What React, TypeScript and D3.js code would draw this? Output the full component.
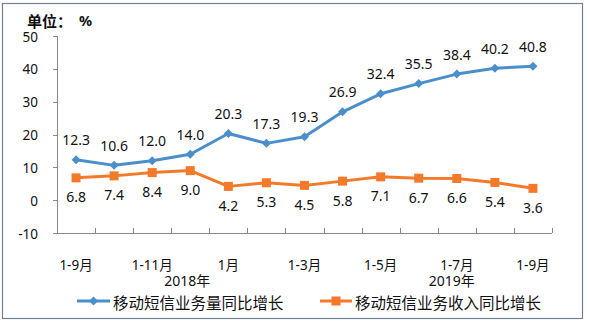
import React from "react";
import * as d3 from "d3";

const categories = ["1-9月", "1-10月", "1-11月", "1-12月", "1月", "1-2月", "1-3月", "1-4月", "1-5月", "1-6月", "1-7月", "1-8月", "1-9月"];
const shownLabels = [0, 2, 4, 6, 8, 10, 12];
const volumeGrowth = [12.3, 10.6, 12.0, 14.0, 20.3, 17.3, 19.3, 26.9, 32.4, 35.5, 38.4, 40.2, 40.8];
const revenueGrowth = [6.8, 7.4, 8.4, 9.0, 4.2, 5.3, 4.5, 5.8, 7.1, 6.7, 6.6, 5.4, 3.6];
const yTicks = [-10, 0, 10, 20, 30, 40, 50];
const seriesNames = ["移动短信业务量同比增长", "移动短信业务收入同比增长"];
const years = ["2018年", "2019年"];

const W = 590, H = 324;
const BLUE = "#4a8fcb";
const ORANGE = "#f47a2a";
const NUM_FONT = "'Noto Sans', 'Noto Sans CJK SC', sans-serif";
const CJK_FONT = "'Noto Sans CJK SC', 'Noto Sans', sans-serif";

export default function App() {
  const idx = categories.map((_, i) => i);
  const x = d3.scaleBand<number>().domain(idx).range([57, 552]).padding(0);
  const cx = (i: number) => (x(i) as number) + x.bandwidth() / 2;
  const y = d3.scaleLinear().domain([-10, 50]).range([233, 36]);

  const line = d3.line<number>().x((_, i) => cx(i)).y((d) => y(d));

  const diamond = (px: number, py: number, r = 4.5) =>
    `M${px},${py - r}L${px + r},${py}L${px},${py + r}L${px - r},${py}Z`;

  return (
    <svg width={W} height={H} style={{ position: "absolute", left: 0, top: 0, background: "#fff" }}>
      <rect x={2.5} y={3.5} width={580} height={315} fill="#fff" stroke="#6e8294" strokeWidth={1.2} />
      {/* title */}
      <text x={27} y={20} dominantBaseline="central" fontFamily={CJK_FONT} fontWeight="bold" fontSize={15} fill="#111">单位：</text>
      <text x={79} y={20} dominantBaseline="central" fontFamily={NUM_FONT} fontWeight="bold" fontSize={14.5} fill="#111">%</text>

      {/* y axis */}
      <line x1={57.5} x2={57.5} y1={y(50)} y2={y(-10)} stroke="#8a8a8a" strokeWidth={1} />
      {yTicks.map((t) => (
        <g key={t}>
          <line x1={53} x2={57.5} y1={Math.round(y(t)) + 0.5} y2={Math.round(y(t)) + 0.5} stroke="#8a8a8a" />
          <text x={38} y={y(t) + 0.5} textAnchor="end" dominantBaseline="central" fontFamily={NUM_FONT} fontSize={13.5} fill="#111">{t}</text>
        </g>
      ))}

      {/* x axis */}
      <line x1={57} x2={552} y1={Math.round(y(-10)) + 0.5} y2={Math.round(y(-10)) + 0.5} stroke="#8a8a8a" />
      {idx.concat([13]).map((i) => {
        const px = i < 13 ? (x(i) as number) : 552;
        return <line key={"t" + i} x1={Math.round(px) + 0.5} x2={Math.round(px) + 0.5} y1={y(-10) - 5} y2={y(-10)} stroke="#8a8a8a" />;
      })}
      {shownLabels.map((i) => (
        <text key={"xl" + i} x={cx(i)} y={264.5} textAnchor="middle" dominantBaseline="central" fontFamily={NUM_FONT} fontSize={13.5} fill="#111">{categories[i]}</text>
      ))}
      <text x={cx(3) - 3} y={280.5} textAnchor="middle" dominantBaseline="central" fontFamily={NUM_FONT} fontSize={14} fill="#111">{years[0]}</text>
      <text x={cx(10) - 5} y={280.5} textAnchor="middle" dominantBaseline="central" fontFamily={NUM_FONT} fontSize={14} fill="#111">{years[1]}</text>

      {/* series lines */}
      <path d={line(volumeGrowth) as string} fill="none" stroke={BLUE} strokeWidth={3} strokeLinejoin="round" />
      <path d={line(revenueGrowth) as string} fill="none" stroke={ORANGE} strokeWidth={3} strokeLinejoin="round" />
      {volumeGrowth.map((v, i) => (
        <path key={"bm" + i} d={diamond(cx(i), y(v))} fill={BLUE} />
      ))}
      {revenueGrowth.map((v, i) => (
        <rect key={"om" + i} x={cx(i) - 4.5} y={y(v) - 4.5} width={9} height={9} fill={ORANGE} />
      ))}

      {/* data labels */}
      {volumeGrowth.map((v, i) => (
        <text key={"bl" + i} x={cx(i)} y={y(v) - 20} textAnchor="middle" dominantBaseline="central" fontFamily={NUM_FONT} fontSize={14} fill="#111">{v.toFixed(1)}</text>
      ))}
      {revenueGrowth.map((v, i) => (
        <text key={"ol" + i} x={cx(i)} y={y(v) + 19} textAnchor="middle" dominantBaseline="central" fontFamily={NUM_FONT} fontSize={14} fill="#111">{v.toFixed(1)}</text>
      ))}

      {/* legend */}
      <line x1={77} x2={110} y1={301} y2={301} stroke={BLUE} strokeWidth={3} />
      <path d={diamond(93.5, 301)} fill={BLUE} />
      <text x={113} y={301.5} dominantBaseline="central" fontFamily={CJK_FONT} fontSize={15.5} fill="#111">{seriesNames[0]}</text>
      <line x1={320} x2={352} y1={301} y2={301} stroke={ORANGE} strokeWidth={3} />
      <rect x={331.5} y={296.5} width={9} height={9} fill={ORANGE} />
      <text x={355} y={301.5} dominantBaseline="central" fontFamily={CJK_FONT} fontSize={15.5} fill="#111">{seriesNames[1]}</text>
    </svg>
  );
}
